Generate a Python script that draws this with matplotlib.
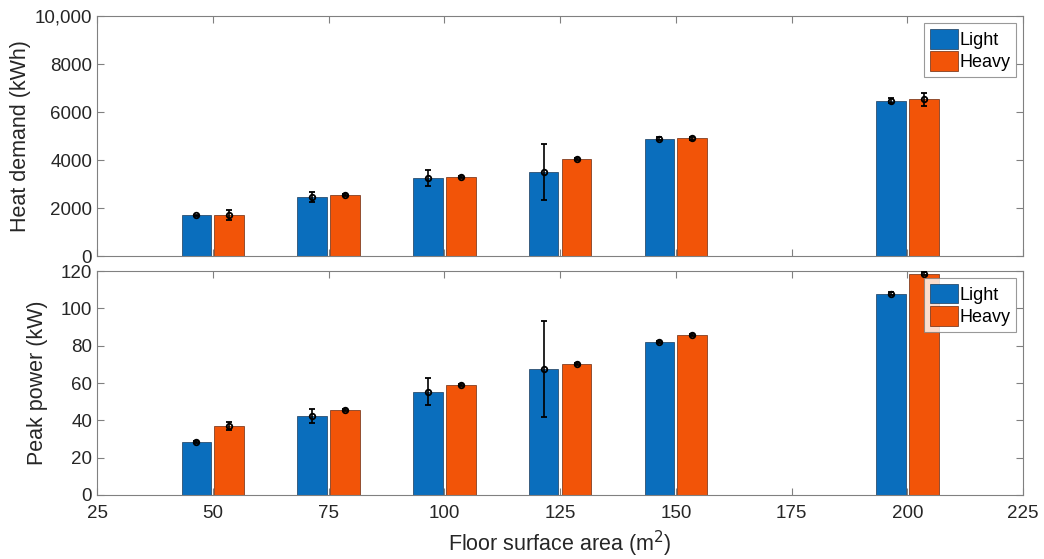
import numpy as np
import matplotlib.pyplot as plt
import matplotlib as mpl

mpl.rcParams['font.family'] = ['Liberation Sans', 'DejaVu Sans']
mpl.rcParams['xtick.direction'] = 'in'
mpl.rcParams['ytick.direction'] = 'in'
mpl.rcParams['xtick.top'] = True
mpl.rcParams['ytick.right'] = True

# floor surface area (m2)
area = np.array([50, 75, 100, 125, 150, 200])

# heat demand (kWh) with spread
heat_light = np.array([1690, 2470, 3240, 3500, 4900, 6480])
heat_light_err = np.array([40, 200, 330, 1180, 60, 100])
heat_heavy = np.array([1710, 2530, 3310, 4030, 4910, 6530])
heat_heavy_err = np.array([200, 40, 40, 40, 60, 270])

# peak power (kW) with spread
peak_light = np.array([28.6, 42.2, 55.4, 67.4, 82.0, 108.0])
peak_light_err = np.array([0.5, 3.8, 7.4, 25.7, 0.5, 0.6])
peak_heavy = np.array([37.0, 45.4, 59.1, 70.2, 85.9, 118.7])
peak_heavy_err = np.array([2.0, 0.5, 0.5, 0.5, 0.5, 0.6])

c_light = '#0A6EBD'
c_heavy = '#F25408'
off = 3.55
w = 6.4

fig = plt.figure(figsize=(10.44, 5.59), dpi=100)
ax1 = fig.add_axes([0.093, 0.542, 0.887, 0.429])
ax2 = fig.add_axes([0.093, 0.1145, 0.887, 0.4005])

def draw(ax, yl, yl_err, yh, yh_err):
    ax.bar(area - off, yl, width=w, color=c_light, edgecolor='#1a3a5a', linewidth=0.5, label='Light', zorder=2)
    ax.bar(area + off, yh, width=w, color=c_heavy, edgecolor='#6a2a10', linewidth=0.5, label='Heavy', zorder=2)
    ax.errorbar(area - off, yl, yerr=yl_err, fmt='o', color='k', ms=4, mfc='none', mew=1.3,
                elinewidth=1.2, capsize=2.5, zorder=3)
    ax.errorbar(area + off, yh, yerr=yh_err, fmt='o', color='k', ms=4, mfc='none', mew=1.3,
                elinewidth=1.2, capsize=2.5, zorder=3)
    ax.set_xlim(25, 225)
    ax.set_xticks([25, 50, 75, 100, 125, 150, 175, 200, 225])
    for s in ax.spines.values():
        s.set_color('#808080')
        s.set_linewidth(0.8)
    ax.tick_params(labelsize=13.5, colors='#808080', labelcolor='#262626', length=5, width=0.8)
    ax.tick_params(axis='x', pad=7)
    leg = ax.legend(loc='upper right', fontsize=13, frameon=True, fancybox=False,
                    handlelength=1.55, handleheight=1.3, handletextpad=0.1, borderpad=0.3,
                    labelspacing=0.15, borderaxespad=0.4)
    leg.get_frame().set_edgecolor('#808080')
    leg.get_frame().set_linewidth(0.8)

draw(ax1, heat_light, heat_light_err, heat_heavy, heat_heavy_err)
ax1.set_ylim(0, 10000)
ax1.set_yticks([0, 2000, 4000, 6000, 8000, 10000])
ax1.set_yticklabels(['0', '2000', '4000', '6000', '8000', '10,000'])
ax1.tick_params(labelbottom=False)
ax1.set_ylabel('Heat demand (kWh)', fontsize=15.5, color='#262626', labelpad=3)

draw(ax2, peak_light, peak_light_err, peak_heavy, peak_heavy_err)
ax2.set_ylim(0, 120)
ax2.set_yticks([0, 20, 40, 60, 80, 100, 120])
ax2.set_ylabel('Peak power (kW)', fontsize=15.5, color='#262626', labelpad=9)
ax2.set_xlabel('Floor surface area (m$^2$)', fontsize=15.5, color='#262626', labelpad=5)

fig.savefig('out.png', dpi=100)
